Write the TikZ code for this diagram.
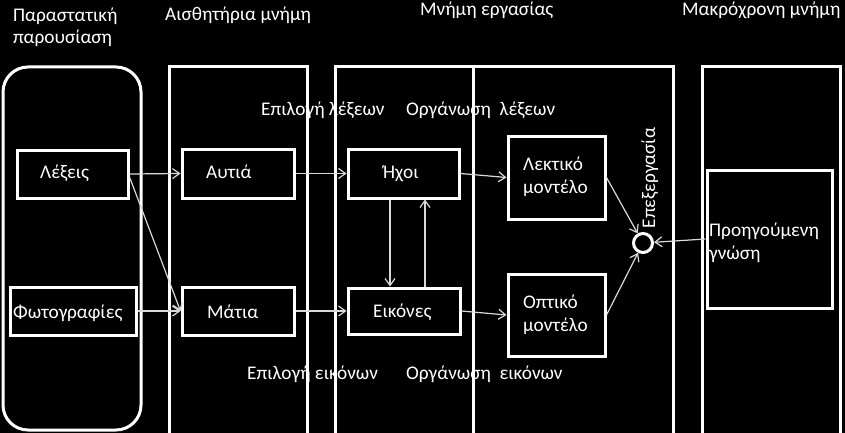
\documentclass[tikz,border=0pt]{standalone}
\usepackage{fontspec}
\setmainfont{Carlito}
\usetikzlibrary{arrows.meta}
\begin{document}
\begin{tikzpicture}[x=1pt,y=-1pt,
  frame/.style={draw=white, line width=3pt},
  box/.style={draw=white, line width=3pt, inner sep=0pt},
  lbl/.style={text=white, font=\fontsize{19.3}{23}\selectfont, inner sep=0pt, anchor=base west},
  arr/.style={draw=white!85!black, line width=1.2pt, -{Straight Barb[length=7pt,width=10pt]}}]
\fill[black] (0,0) rectangle (845,433);
\useasboundingbox (0,0) rectangle (845,433);
% header labels
\node[lbl] (h1a) at (13,21.5) {Παραστατική};
\node[lbl] (h1b) at (13,44) {παρουσίαση};
\node[lbl] (h2) at (165,21) {Αισθητήρια μνήμη};
\node[lbl] (h3) at (420,16) {Μνήμη εργασίας};
\node[lbl] (h4) at (682,16) {Μακρόχρονη μνήμη};
\node[lbl] (s1) at (261,116) {Επιλογή λέξεων};
\node[lbl] (s2) at (406,116) {Οργάνωση\ \ λέξεων};
\node[lbl] (s3) at (247,379) {Επιλογή εικόνων};
\node[lbl] (s4) at (406,379) {Οργάνωση\ \ εικόνων};
% frames
\draw[frame, rounded corners=25pt] (3,67) rectangle (141,430);
\draw[frame] (169,67) rectangle (307,440);
\draw[frame] (335,67) rectangle (473,440);
\draw[frame] (473,67) rectangle (673,440);
\draw[frame] (702,67) rectangle (840,440);
% boxes
\node[box, minimum width=111pt, minimum height=48pt] (lex) at (72.5,174) {};
\node[box, minimum width=126pt, minimum height=48pt] (foto) at (73,311) {};
\node[box, minimum width=112pt, minimum height=49pt] (aut) at (238,173.5) {};
\node[box, minimum width=112pt, minimum height=48pt] (mat) at (238,311) {};
\node[box, minimum width=111pt, minimum height=49pt] (ich) at (403.5,173.5) {};
\node[box, minimum width=112pt, minimum height=46pt] (eik) at (404,311) {};
\node[box, minimum width=97pt, minimum height=83pt] (lekt) at (556.5,177.5) {};
\node[box, minimum width=97pt, minimum height=82pt] (opt) at (556.5,315) {};
\node[box, minimum width=125pt, minimum height=138pt] (prev) at (769.5,239) {};
\node[draw=white, line width=3pt, circle, minimum size=19pt, inner sep=0pt] (proc) at (643,243) {};
% box texts
\node[lbl] (t1) at (40,178) {Λέξεις};
\node[lbl] (t2) at (13,318) {Φωτογραφίες};
\node[lbl] (t3) at (206,178) {Αυτιά};
\node[lbl] (t4) at (207,318) {Μάτια};
\node[lbl] (t5) at (383,178) {Ήχοι};
\node[lbl] (t6) at (373,317) {Εικόνες};
\node[lbl] (t7a) at (523,170) {Λεκτικό};
\node[lbl] (t7b) at (523,193) {μοντέλο};
\node[lbl] (t8a) at (523,308) {Οπτικό};
\node[lbl] (t8b) at (523,331) {μοντέλο};
\node[lbl] (t9a) at (709,236) {Προηγούμενη};
\node[lbl] (t9b) at (709,259) {γνώση};
\node[lbl, rotate=90, anchor=base] (t10) at (655,178) {Επεξεργασία};
% arrows
\draw[arr] (lex.east) -- (aut.west);
\draw[arr] ([yshift=-3pt]lex.east) -- (mat.west);
\draw[arr] (foto.east) -- (mat.west);
\draw[arr] (aut.east) -- (ich.west);
\draw[arr] (mat.east) -- (eik.west);
\draw[arr] (ich.east) -- (lekt.west);
\draw[arr] (eik.east) -- (opt.west);
\draw[arr] ([xshift=-13.5pt]ich.south) -- ([xshift=-14pt]eik.north);
\draw[arr] ([xshift=21pt]eik.north) -- ([xshift=21.5pt]ich.south);
\draw[arr] (lekt.east) -- (proc);
\draw[arr] (opt.east) -- (proc);
\draw[arr] (prev.west) -- (proc);
\end{tikzpicture}
\end{document}
